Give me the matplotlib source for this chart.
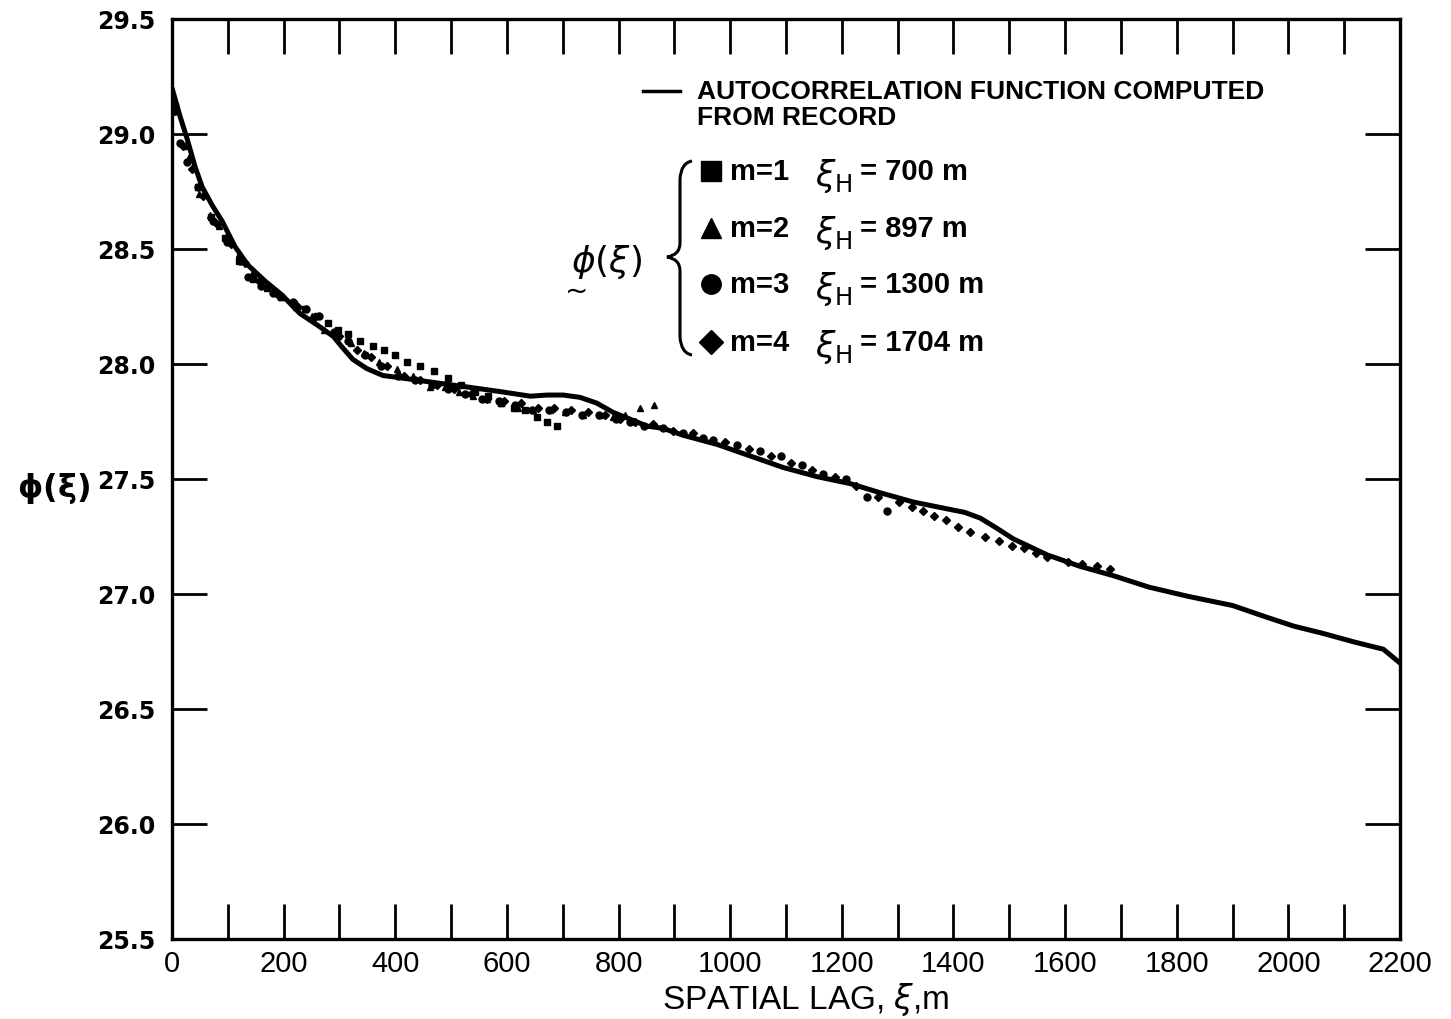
import matplotlib
matplotlib.use('Agg')
import matplotlib.pyplot as plt
from matplotlib.path import Path
from matplotlib.patches import PathPatch
from matplotlib.ticker import MultipleLocator

# autocorrelation function computed from record
curve_x = [0, 14, 27, 41, 54, 72, 90, 113, 136, 167, 197, 229, 260, 289, 306,
           324, 349, 378, 409, 468, 529, 588, 642, 672, 701, 731, 761, 790,
           821, 851, 880, 916, 977, 1036, 1095, 1156, 1215, 1269, 1328, 1389,
           1420, 1448, 1475, 1507, 1568, 1627, 1686, 1750, 1820, 1900, 1960,
           2010, 2060, 2120, 2170, 2200]
curve_y = [29.20, 29.08, 28.98, 28.86, 28.77, 28.69, 28.62, 28.51, 28.43,
           28.36, 28.30, 28.22, 28.17, 28.12, 28.07, 28.02, 27.98, 27.95,
           27.94, 27.92, 27.90, 27.88, 27.86, 27.865, 27.865, 27.855, 27.83,
           27.79, 27.76, 27.73, 27.72, 27.69, 27.65, 27.60, 27.55, 27.51,
           27.48, 27.44, 27.40, 27.37, 27.355, 27.33, 27.29, 27.24, 27.17,
           27.12, 27.08, 27.03, 26.99, 26.95, 26.90, 26.86, 26.83, 26.79,
           26.76, 26.70]

# m=1, xi_H = 700 m (squares)
sq_x = [5, 25, 47, 70, 95, 120, 145, 170, 195, 218, 238, 259, 280, 297, 315,
        337, 360, 380, 400, 421, 444, 469, 494, 518, 542, 566, 590, 612, 633,
        654, 672, 690]
sq_y = [29.12, 28.95, 28.77, 28.64, 28.55, 28.45, 28.37, 28.33, 28.29, 28.26,
        28.24, 28.21, 28.18, 28.15, 28.13, 28.10, 28.08, 28.06, 28.04, 28.01,
        27.99, 27.97, 27.94, 27.91, 27.88, 27.86, 27.83, 27.81, 27.80, 27.77,
        27.75, 27.73]

# m=2, xi_H = 897 m (triangles)
tri_x = [8, 30, 48, 68, 84, 99, 120, 145, 170, 195, 222, 251, 272, 297, 321,
         344, 371, 403, 432, 462, 489, 514, 540, 565, 590, 620, 647, 677, 704,
         737, 767, 790, 812, 839, 864]
tri_y = [29.10, 28.90, 28.74, 28.65, 28.60, 28.56, 28.48, 28.40, 28.34, 28.29,
         28.25, 28.21, 28.15, 28.12, 28.09, 28.05, 28.01, 27.98, 27.95, 27.90,
         27.90, 27.88, 27.86, 27.85, 27.83, 27.81, 27.80, 27.80, 27.79, 27.78,
         27.78, 27.77, 27.78, 27.81, 27.82]

# m=3, xi_H = 1300 m (circles)
cir_x = [14, 27, 47, 73, 98, 122, 136, 160, 181, 217, 240, 263, 290, 315, 345,
         375, 405, 435, 465, 495, 525, 555, 585, 615, 645, 675, 705, 735, 765,
         795, 821, 845, 880, 916, 952, 970, 1013, 1054, 1091, 1129, 1167, 1208,
         1245, 1281]
cir_y = [28.96, 28.88, 28.77, 28.62, 28.53, 28.45, 28.38, 28.34, 28.31, 28.27,
         28.24, 28.21, 28.14, 28.10, 28.04, 27.99, 27.95, 27.93, 27.91, 27.89,
         27.87, 27.85, 27.84, 27.82, 27.80, 27.80, 27.79, 27.78, 27.78, 27.76,
         27.75, 27.73, 27.72, 27.70, 27.68, 27.67, 27.65, 27.62, 27.60, 27.56,
         27.52, 27.50, 27.42, 27.36]

# m=4, xi_H = 1704 m (diamonds)
dia_x = [5, 20, 36, 55, 80, 105, 130, 155, 190, 225, 255, 300, 332, 356, 385,
         415, 445, 475, 505, 535, 565, 595, 625, 655, 685, 715, 745, 775, 803,
         830, 862, 898, 934, 991, 1034, 1073, 1109, 1147, 1188, 1226, 1265,
         1303, 1326, 1346, 1366, 1387, 1409, 1429, 1457, 1482, 1505, 1527,
         1547, 1568, 1606, 1631, 1658, 1681]
dia_y = [29.10, 28.95, 28.85, 28.73, 28.61, 28.52, 28.44, 28.36, 28.30, 28.25,
         28.20, 28.12, 28.06, 28.03, 27.99, 27.95, 27.93, 27.91, 27.89, 27.87,
         27.85, 27.84, 27.83, 27.81, 27.81, 27.80, 27.79, 27.78, 27.76, 27.75,
         27.74, 27.71, 27.70, 27.66, 27.63, 27.60, 27.57, 27.54, 27.51, 27.47,
         27.42, 27.40, 27.38, 27.36, 27.34, 27.32, 27.29, 27.27, 27.25, 27.23,
         27.21, 27.20, 27.18, 27.16, 27.14, 27.13, 27.12, 27.11]

legend_rows = [('s', 'm=1', '= 700 m'),
               ('^', 'm=2', '= 897 m'),
               ('o', 'm=3', '= 1300 m'),
               ('D', 'm=4', '= 1704 m')]

W, H = 1451, 1020
narrow = ['Liberation Sans', 'DejaVu Sans']


def fx(x):
    return x / W


def fy(y):
    return 1 - y / H


fig = plt.figure(figsize=(W / 100, H / 100), dpi=100)
ax = fig.add_axes([fx(172), fy(940), fx(1400) - fx(172), fy(20) - fy(940)])

ax.plot(curve_x, curve_y, color='black', lw=3.6, solid_capstyle='round',
        solid_joinstyle='round')
ax.plot(sq_x, sq_y, 's', color='black', ms=4.6, ls='none')
ax.plot(tri_x, tri_y, '^', color='black', ms=5.0, ls='none')
ax.plot(cir_x, cir_y, 'o', color='black', ms=5.0, ls='none')
ax.plot(dia_x, dia_y, 'D', color='black', ms=4.2, ls='none')

ax.set_xlim(0, 2200)
ax.set_ylim(25.5, 29.5)
ax.xaxis.set_minor_locator(MultipleLocator(100))
ax.set_yticks([25.5 + 0.5 * i for i in range(9)])
ax.set_yticklabels(['%.1f' % (25.5 + 0.5 * i) for i in range(9)],
                   fontsize=17, fontweight='bold')
ax.set_xticks(range(0, 2201, 200))
ax.set_xticklabels([str(v) for v in range(0, 2201, 200)],
                   fontsize=21, family=narrow)
for which in ('major', 'minor'):
    ax.tick_params(axis='both', which=which, direction='in', length=25,
                   width=2, top=True, right=True, color='black')
ax.tick_params(axis='x', which='major', pad=7)
ax.tick_params(axis='y', which='major', pad=12)
for sp in ax.spines.values():
    sp.set_linewidth(2.4)

fig.text(fx(806), fy(1000), r'SPATIAL LAG, $\xi$,m', ha='center', va='center',
         fontsize=24, family=narrow)
fig.text(fx(90), fy(488), r'$\mathbf{\phi(\xi)}$', ha='right', va='center',
         fontsize=23)

# legend block
fig.add_artist(plt.Line2D([fx(643), fx(680)], [fy(92), fy(92)],
                          color='black', lw=2.5))
fig.text(fx(697), fy(92), 'AUTOCORRELATION FUNCTION COMPUTED', ha='left',
         va='center', fontsize=19, fontweight='bold', family=narrow)
fig.text(fx(697), fy(118), 'FROM RECORD', ha='left', va='center',
         fontsize=19, fontweight='bold', family=narrow)

row_y = [172, 229, 285, 343]
for (mk, mtxt, xitxt), yy in zip(legend_rows, row_y):
    fig.add_artist(plt.Line2D([fx(711)], [fy(yy)], marker=mk, color='black',
                              ms=14 if mk != 'D' else 12, ls='none'))
    fig.text(fx(730), fy(yy), mtxt, ha='left', va='center', fontsize=21,
             fontweight='bold', family=narrow)
    fig.text(fx(815), fy(yy + 4), r'$\xi_\mathrm{H}$', ha='left', va='center',
             fontsize=25)
    fig.text(fx(860), fy(yy), xitxt, ha='left', va='center', fontsize=21,
             fontweight='bold', family=narrow)

fig.text(fx(606), fy(262), r'$\phi(\xi)$', ha='center', va='center',
         fontsize=26)
fig.text(fx(577), fy(292), '~', ha='center', va='center', fontsize=20)

# curly brace
bx, btop, bmid, bbot = 680, 162, 258, 356
verts = [(692, btop), (681, btop + 2), (bx, btop + 18),
         (bx, bmid - 14),
         (bx, bmid - 2), (667, bmid),
         (bx, bmid + 2), (bx, bmid + 14),
         (bx, bbot - 18),
         (681, bbot - 2), (692, bbot)]
codes = [Path.MOVETO, Path.CURVE3, Path.CURVE3, Path.LINETO,
         Path.CURVE3, Path.CURVE3, Path.CURVE3, Path.CURVE3,
         Path.LINETO, Path.CURVE3, Path.CURVE3]
verts = [(fx(a), fy(b)) for a, b in verts]
fig.add_artist(PathPatch(Path(verts, codes), fill=False, lw=2.2,
                         edgecolor='black', transform=fig.transFigure))

fig.savefig('out.png', dpi=100)
